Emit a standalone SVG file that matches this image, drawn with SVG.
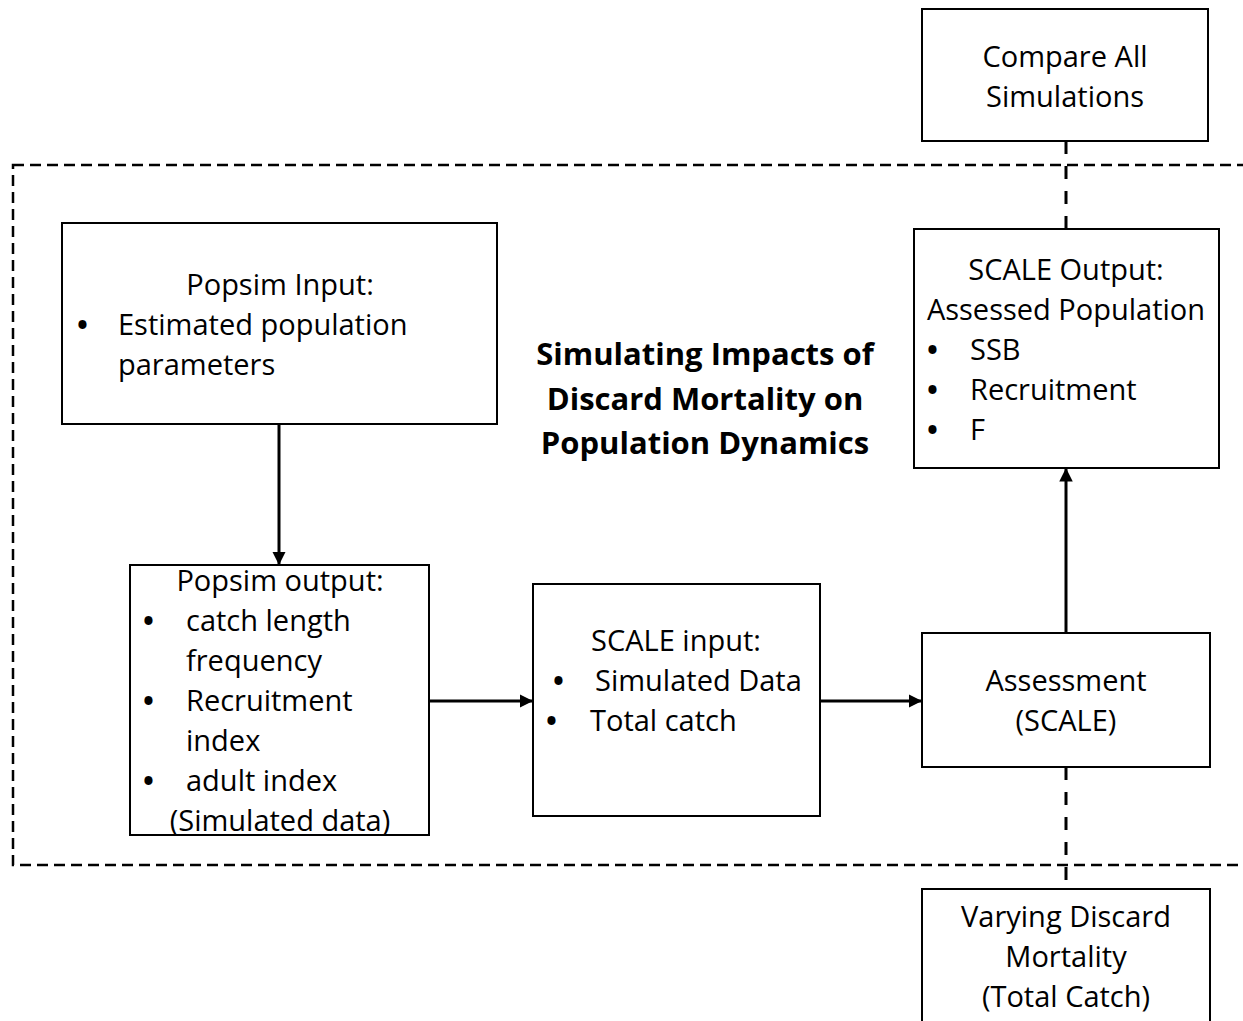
<svg xmlns="http://www.w3.org/2000/svg" width="1243" height="1021" viewBox="0 0 1243 1021">
<style>
.box{fill:#fff;stroke:#000;stroke-width:2}
.t{font-family:"Open Sans","Noto Sans",sans-serif;font-size:29px;fill:#000}
.c{text-anchor:middle}
.b{font-weight:bold;font-size:31px}
.bul{font-weight:bold}
.arrow{stroke:#000;stroke-width:3;fill:none}
.dash{stroke:#000;stroke-width:3;fill:none;stroke-dasharray:13 12}
</style>
<defs>
<marker id="ah" viewBox="0 0 10 10" refX="10" refY="5" markerWidth="4.5" markerHeight="4.5" orient="auto" markerUnits="strokeWidth">
<path d="M0,0 L10,5 L0,10 z" fill="#000"/>
</marker>
</defs>
<rect x="13" y="165" width="1240" height="700" fill="none" stroke="#000" stroke-width="2.5" stroke-dasharray="11 6"/>
<g id="connectors">
<line class="dash" x1="1066" y1="141" x2="1066" y2="229"/>
<line class="dash" x1="1066" y1="767" x2="1066" y2="889"/>
<line class="arrow" x1="279" y1="424" x2="279" y2="565" marker-end="url(#ah)"/>
<line class="arrow" x1="429" y1="701" x2="533" y2="701" marker-end="url(#ah)"/>
<line class="arrow" x1="820" y1="701" x2="922" y2="701" marker-end="url(#ah)"/>
<line class="arrow" x1="1066" y1="633" x2="1066" y2="468" marker-end="url(#ah)"/>
</g>
<g id="compare">
<rect class="box" x="922" y="9" width="286" height="132"/>
<text class="t c" x="1065" y="67">Compare All</text>
<text class="t c" x="1065" y="107">Simulations</text>
</g>
<g id="popsim-input">
<rect class="box" x="62" y="223" width="435" height="201"/>
<text class="t c" x="280" y="295">Popsim Input:</text>
<text class="t bul" x="77" y="335">•</text>
<text class="t" x="118" y="335">Estimated population</text>
<text class="t" x="118" y="375">parameters</text>
</g>
<g id="title">
<text class="t c b" x="705" y="365">Simulating Impacts of</text>
<text class="t c b" x="705" y="410">Discard Mortality on</text>
<text class="t c b" x="705" y="454">Population Dynamics</text>
</g>
<g id="scale-output">
<rect class="box" x="914" y="229" width="305" height="239"/>
<text class="t c" x="1066" y="280">SCALE Output:</text>
<text class="t c" x="1066" y="320">Assessed Population</text>
<text class="t bul" x="927" y="360">•</text>
<text class="t" x="970" y="360">SSB</text>
<text class="t bul" x="927" y="400">•</text>
<text class="t" x="970" y="400">Recruitment</text>
<text class="t bul" x="927" y="440">•</text>
<text class="t" x="970" y="440">F</text>
</g>
<g id="popsim-output">
<rect class="box" x="130" y="565" width="299" height="270"/>
<text class="t c" x="280" y="591">Popsim output:</text>
<text class="t bul" x="143" y="631">•</text>
<text class="t" x="186" y="631">catch length</text>
<text class="t" x="186" y="671">frequency</text>
<text class="t bul" x="143" y="711">•</text>
<text class="t" x="186" y="711">Recruitment</text>
<text class="t" x="186" y="751">index</text>
<text class="t bul" x="143" y="791">•</text>
<text class="t" x="186" y="791">adult index</text>
<text class="t c" x="280" y="831">(Simulated data)</text>
</g>
<g id="scale-input">
<rect class="box" x="533" y="584" width="287" height="232"/>
<text class="t c" x="676" y="651">SCALE input:</text>
<text class="t bul" x="553" y="691">•</text>
<text class="t" x="595" y="691">Simulated Data</text>
<text class="t bul" x="546" y="731">•</text>
<text class="t" x="590" y="731">Total catch</text>
</g>
<g id="assessment">
<rect class="box" x="922" y="633" width="288" height="134"/>
<text class="t c" x="1066" y="691">Assessment</text>
<text class="t c" x="1066" y="731">(SCALE)</text>
</g>
<g id="varying">
<rect class="box" x="922" y="889" width="288" height="140"/>
<text class="t c" x="1066" y="927">Varying Discard</text>
<text class="t c" x="1066" y="967">Mortality</text>
<text class="t c" x="1066" y="1007">(Total Catch)</text>
</g>
</svg>
